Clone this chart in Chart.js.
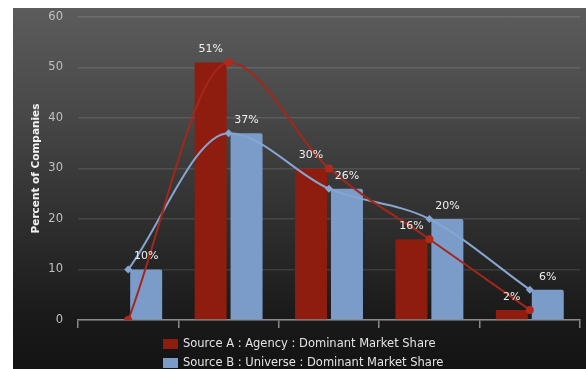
<!DOCTYPE html>
<html><head><meta charset="utf-8">
<script src="https://cdn.jsdelivr.net/npm/chart.js@4/dist/chart.umd.min.js"></script>
<style>
html,body{margin:0;padding:0;background:#fff;}
#panel{position:absolute;left:13px;top:8px;width:573px;height:361px;
  background:linear-gradient(to bottom,#5c5c5c 0%,#474747 30%,#2e2e2e 60%,#1a1a1a 85%,#131313 100%);}
canvas{display:block;}
</style></head><body>
<div id="panel"><canvas id="c" width="573" height="361"></canvas></div>
<script>
// Market share buckets (unlabelled on the axis)
const categories = ['1', '2', '3', '4', '5'];
const sourceA = [0, 51, 30, 16, 2];
const sourceB = [10, 37, 26, 20, 6];
const seriesNames = ['Source A : Agency : Dominant Market Share', 'Source B : Universe : Dominant Market Share'];
const yTicks = [0, 10, 20, 30, 40, 50, 60];
const yTitle = 'Percent of Companies';

const RED = '#8e1d10', BLUE = '#7b9cc8';
const RED_LINE = '#a3271a', BLUE_LINE = '#86a5cf';

Chart.defaults.font.family = '"DejaVu Sans", sans-serif';

// Percent labels over each bar
const barValueLabels = {
  id: 'barValueLabels',
  afterDatasetsDraw(chart) {
    const ctx = chart.ctx;
    ctx.save();
    ctx.font = '11px "DejaVu Sans"';
    ctx.fillStyle = '#f0f0f0';
    ctx.textAlign = 'center';
    ctx.textBaseline = 'middle';
    chart.data.datasets.forEach((ds, i) => {
      if (ds.type !== 'bar') return;
      chart.getDatasetMeta(i).data.forEach((el, j) => {
        const v = ds.data[j];
        if (v > 0) ctx.fillText(v + '%', el.x, el.y - 13);
      });
    });
    ctx.restore();
  }
};

// Two-row legend under the axis, boxes left-aligned
const stackedLegend = {
  id: 'stackedLegend',
  afterDraw(chart) {
    const ctx = chart.ctx;
    const bars = chart.data.datasets.filter(d => d.type === 'bar');
    ctx.save();
    ctx.font = '11.5px "DejaVu Sans"';
    ctx.textBaseline = 'middle';
    ctx.textAlign = 'left';
    bars.forEach((d, i) => {
      const y = chart.chartArea.bottom + 24 + i * 19;
      ctx.fillStyle = d.backgroundColor;
      ctx.fillRect(150, y - 5, 15, 10);
      ctx.fillStyle = '#e4e4e4';
      ctx.fillText(d.label, 170, y);
    });
    ctx.restore();
  }
};

new Chart(document.getElementById('c'), {
  data: {
    labels: categories,
    datasets: [
      { type: 'line', label: seriesNames[0], data: sourceA, order: 0,
        borderColor: RED_LINE, borderWidth: 2, cubicInterpolationMode: 'monotone',
        pointStyle: 'circle', pointRadius: 4, pointBackgroundColor: '#b02a1c', pointBorderWidth: 0 },
      { type: 'line', label: seriesNames[1], data: sourceB, order: 0,
        borderColor: BLUE_LINE, borderWidth: 2, cubicInterpolationMode: 'monotone',
        pointStyle: 'rectRot', pointRadius: 4, pointBackgroundColor: BLUE_LINE, pointBorderWidth: 0 },
      { type: 'bar', label: seriesNames[0], data: sourceA, order: 1,
        backgroundColor: RED, categoryPercentage: 0.716, barPercentage: 0.89 },
      { type: 'bar', label: seriesNames[1], data: sourceB, order: 1,
        backgroundColor: BLUE, borderRadius: 2, categoryPercentage: 0.716, barPercentage: 0.89 }
    ]
  },
  options: {
    responsive: false,
    devicePixelRatio: 1,
    animation: false,
    layout: { padding: { top: 9, right: 6, bottom: 41, left: 0 } },
    plugins: { legend: { display: false }, tooltip: { enabled: false } },
    scales: {
      x: {
        offset: true,
        grid: { display: true, drawOnChartArea: false, offset: true, color: '#8a8a8a', tickLength: 8, lineWidth: 1.5 },
        border: { display: true, color: '#8a8a8a', width: 1.5 },
        ticks: { display: false },
        afterFit: s => { s.height = 8; }
      },
      y: {
        min: 0, max: 60,
        afterBuildTicks: s => { s.ticks = yTicks.map(v => ({ value: v })); },
        grid: { color: 'rgba(255,255,255,0.11)', lineWidth: 1.5, drawTicks: true, tickLength: 13, tickColor: 'rgba(0,0,0,0)' },
        border: { display: false },
        ticks: { color: '#c0c0c0', font: { size: 11.5 }, padding: 2 },
        title: { display: true, text: yTitle, color: '#f2f2f2', font: { size: 10.5, weight: 'bold' }, padding: { top: 17, bottom: 0 } },
        afterFit: s => { s.width = 65; }
      }
    }
  },
  plugins: [barValueLabels, stackedLegend]
});
</script>
</body></html>
